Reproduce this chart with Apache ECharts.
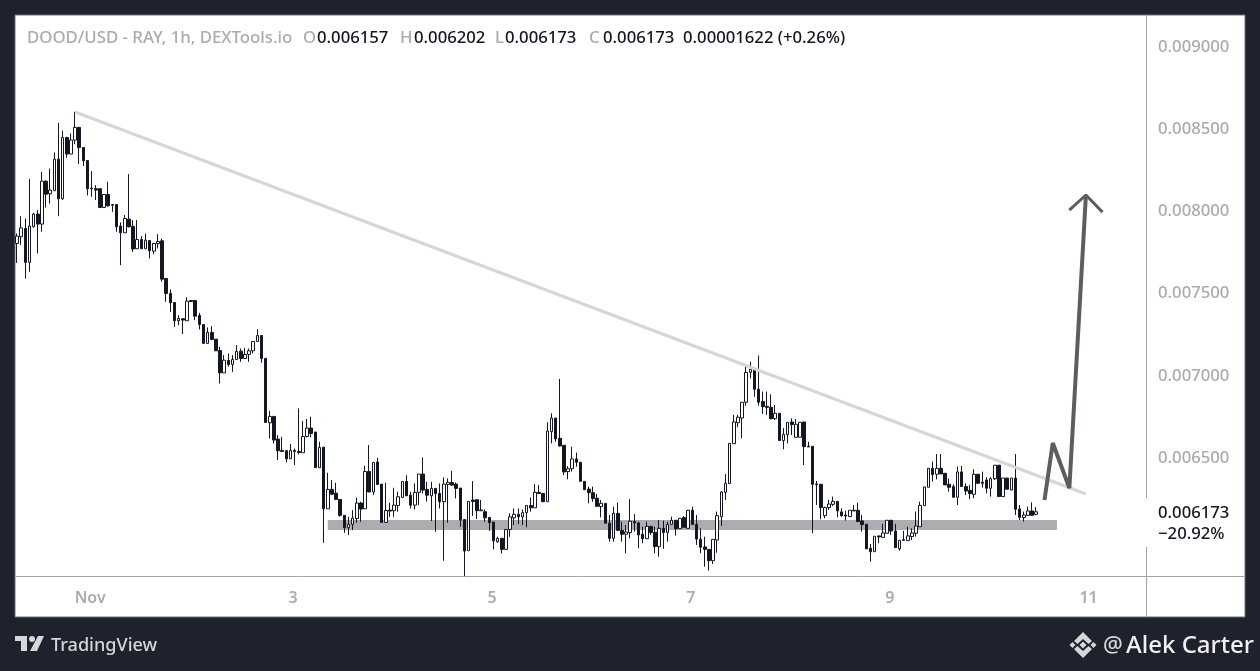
<!DOCTYPE html>
<html><head><meta charset="utf-8">
<style>html,body{margin:0;padding:0;background:#1e222d}#c{width:1260px;height:671px}</style>
<script src="https://cdn.jsdelivr.net/npm/echarts@6/dist/echarts.min.js"></script>
</head><body><div id="c"></div>
<script>
// Prices are in millionths of a USD.
const opens = [
7805,7846,7896,7690,7907,7984,7923,8184,8107,8126,
8318,8077,8450,8349,8434,8511,8389,8310,8142,8138,
8138,8024,8103,8042,8042,7911,7870,7953,7909,7773,
7829,7773,7823,7758,7805,7821,7592,7501,7446,7335,
7347,7335,7458,7458,7367,7312,7197,7264,7223,7154,
7018,7093,7069,7099,7150,7105,7130,7152,7209,7245,
7106,6714,6753,6615,6546,6544,6495,6546,6540,6532,
6631,6682,6658,6441,6566,6191,6309,6286,6248,6151,
6076,6096,6132,6226,6191,6418,6293,6475,6341,6108,
6183,6179,6211,6260,6357,6274,6213,6291,6402,6309,
6270,6315,6284,6234,6339,6351,6341,6317,6126,5936,
6244,6246,6183,6173,6138,6110,5990,6011,5944,6065,
6136,6157,6142,6167,6211,6197,6291,6284,6234,6660,
6743,6620,6577,6417,6435,6494,6474,6358,6311,6289,
6255,6204,6224,6103,6011,6163,6060,6036,6046,6113,
6105,6036,6009,6084,6048,5961,6072,6046,6096,6121,
6070,6137,6072,6182,6096,6005,5959,5944,5875,6001,
6143,6291,6344,6587,6715,6743,6839,7021,7040,6918,
6843,6814,6808,6739,6772,6606,6642,6719,6626,6626,
6719,6571,6571,6342,6340,6149,6198,6218,6236,6172,
6153,6143,6182,6182,6117,6097,5951,5930,6026,6017,
6042,6121,6056,5947,6003,5997,6022,6042,6082,6210,
6322,6437,6401,6437,6407,6340,6326,6261,6415,6326,
6303,6279,6401,6352,6366,6316,6374,6456,6265,6378,
6305,6378,6190,6137,6151,6178,6157];
const highs = [
7866,7971,7957,8197,7992,8008,8241,8190,8261,8359,
8539,8491,8454,8474,8606,8515,8389,8310,8245,8160,
8138,8103,8180,8042,8042,7933,7978,8227,7947,7947,
7850,7866,7823,7805,7862,7836,7592,7525,7446,7369,
7347,7477,7458,7458,7383,7312,7294,7302,7223,7176,
7126,7136,7126,7187,7166,7170,7166,7209,7284,7245,
7106,6787,6753,6639,6629,6548,6585,6558,6802,6725,
6737,6751,6658,6599,6566,6410,6366,6349,6248,6151,
6142,6183,6258,6234,6453,6578,6473,6501,6341,6349,
6228,6319,6295,6357,6394,6295,6345,6402,6503,6355,
6355,6315,6345,6382,6376,6422,6351,6317,6126,6236,
6359,6246,6244,6187,6142,6110,6021,6011,6065,6163,
6193,6193,6187,6213,6260,6341,6335,6288,6718,6772,
6743,6981,6577,6451,6569,6533,6474,6358,6326,6326,
6281,6245,6224,6153,6204,6230,6113,6092,6249,6159,
6113,6082,6113,6084,6082,6123,6119,6113,6143,6121,
6133,6147,6182,6204,6153,6072,6021,5944,6005,6174,
6299,6403,6589,6762,6762,6839,7066,7086,7040,7123,
6904,6904,6887,6823,6772,6681,6717,6741,6737,6717,
6719,6599,6571,6360,6340,6204,6245,6265,6236,6194,
6180,6182,6214,6228,6153,6097,5977,6024,6026,6099,
6121,6121,6099,5999,6056,6082,6072,6174,6234,6324,
6437,6478,6524,6524,6407,6376,6340,6447,6451,6346,
6336,6431,6401,6417,6383,6383,6456,6456,6378,6378,
6378,6524,6214,6174,6204,6230,6202];
const lows = [
7687,7795,7592,7633,7902,7744,7876,8024,8048,8126,
7971,8069,8326,8349,8409,8288,8276,8097,8089,8069,
8024,8024,8028,7998,7876,7673,7870,7902,7754,7773,
7773,7773,7714,7740,7775,7572,7450,7389,7298,7308,
7254,7335,7452,7339,7282,7197,7197,7217,7152,6953,
7018,7055,7024,7099,7085,7105,7085,7136,7209,7079,
6716,6619,6589,6487,6538,6473,6495,6457,6522,6532,
6625,6625,6441,6441,5984,6191,6274,6244,6142,6045,
6031,6061,6106,6112,6191,6293,6274,6339,6108,6108,
6142,6142,6173,6260,6270,6193,6187,6213,6284,6234,
6116,6051,6193,5875,6106,6331,6254,6082,5781,5936,
6147,6128,6179,6112,6057,5944,5984,5919,5940,6021,
6092,6098,6092,6078,6173,6197,6284,6234,6234,6589,
6599,6569,6397,6370,6417,6447,6358,6307,6224,6234,
6204,6139,6103,5991,5991,6056,5991,5920,6011,6052,
5950,5981,6007,6032,5920,5900,5948,5991,6096,6028,
6070,6078,6072,6096,5971,5920,5839,5815,5855,5924,
6086,6245,6344,6587,6687,6620,6818,6985,6873,6818,
6768,6762,6735,6731,6606,6553,6589,6640,6626,6626,
6457,6567,6042,6214,6127,6133,6184,6208,6139,6143,
6119,6143,6178,6113,6052,5947,5869,5930,5981,6017,
6042,6032,5955,5936,5999,5997,6001,6022,6082,6210,
6322,6356,6370,6403,6336,6295,6261,6214,6326,6275,
6249,6255,6342,6320,6285,6265,6366,6265,6265,6310,
6305,6153,6123,6113,6147,6151,6151];
const closes = [
7850,7900,7690,7911,7984,7923,8184,8105,8130,8318,
8077,8450,8349,8434,8511,8389,8308,8138,8138,8130,
8024,8103,8034,8038,7907,7870,7957,7907,7771,7829,
7773,7825,7761,7805,7817,7588,7501,7444,7335,7349,
7339,7454,7452,7363,7312,7197,7264,7221,7152,7018,
7095,7069,7099,7148,7105,7130,7152,7209,7245,7105,
6716,6753,6609,6544,6540,6495,6546,6540,6534,6631,
6682,6649,6441,6564,6191,6309,6280,6248,6151,6076,
6096,6134,6226,6189,6418,6293,6473,6339,6108,6181,
6177,6213,6264,6357,6270,6213,6291,6402,6305,6274,
6315,6284,6234,6341,6351,6335,6315,6122,5934,6236,
6236,6179,6179,6136,6106,5996,6011,5944,6065,6142,
6157,6142,6167,6211,6197,6291,6284,6234,6664,6743,
6616,6573,6415,6435,6494,6474,6358,6307,6289,6253,
6206,6224,6103,6011,6163,6060,6036,6050,6115,6105,
6032,6009,6084,6046,5961,6072,6046,6096,6121,6070,
6133,6078,6182,6096,6007,5957,5944,5875,6005,6149,
6293,6346,6589,6719,6748,6839,7021,7040,6918,6839,
6812,6808,6739,6772,6606,6644,6717,6703,6705,6717,
6569,6567,6340,6338,6198,6198,6220,6236,6178,6149,
6147,6182,6178,6113,6095,5947,5930,6024,6020,6044,
6121,6056,5955,5999,5999,6026,6044,6086,6212,6324,
6437,6399,6437,6403,6336,6322,6261,6415,6326,6299,
6283,6401,6346,6346,6316,6374,6456,6265,6378,6310,
6378,6188,6139,6153,6178,6151,6173];

const slotCount = 273;
const dayLabelSlots = [18, 67, 115, 163, 211, 259];
const dayLabels = ['Nov', '3', '5', '7', '9', '11'];
const priceTicks = [6500, 7000, 7500, 8000, 8500, 9000];

// Drawn tools, in [slot, price] terms
const trendLine = [[14, 8605], [258, 6281]];
const arrowPath = [[248, 6244], [250, 6591], [254, 6317], [258, 8100]];
const arrowHead = [[254, 8008], [258, 8100], [262, 7996]];
const supportZone = { fromSlot: 75, toSlot: 251, top: 6123, bottom: 6062 };

const headerName = 'DOOD/USD - RAY, 1h, DEXTools.io';
const headerOHLC = [['O', '0.006157'], ['H', '0.006202'], ['L', '0.006173'], ['C', '0.006173']];
const headerChange = '0.00001622 (+0.26%)';
const lastPrice = '0.006173';
const lastChange = '\u221220.92%';

const categories = Array.from({ length: slotCount }, (_, i) => {
  const k = dayLabelSlots.indexOf(i);
  return k >= 0 ? dayLabels[k] : String(i);
});
const candles = opens.map((o, i) => [o, closes[i], lows[i], highs[i]]);

const FONT = '"Noto Sans", sans-serif';
const DARK = '#1e222d', GREY = '#a9abb0', AXIS = '#a3a3a6', INK = '#131722';

const text = (x, y, t, color, size, weight) => ({
  type: 'text', x, y, z: 20,
  style: { text: t, fill: color, font: `${weight || 500} ${size}px ${FONT}`, textVerticalAlign: 'middle' }
});
const poly = (pts, fill) => ({ type: 'polygon', z: 20, shape: { points: pts }, style: { fill } });
const vline = (x, y1, y2) => ({ type: 'line', z: 5, shape: { x1: x, y1, x2: x, y2 }, style: { stroke: AXIS, lineWidth: 1 } });
const hline = (x1, x2, y) => ({ type: 'line', z: 5, shape: { x1, y1: y, x2, y2: y }, style: { stroke: AXIS, lineWidth: 1 } });

const ohlcX = [[303, 317], [400, 414], [495, 505], [589, 603]];
const graphics = [
  { type: 'rect', z: -10, shape: { x: 15, y: 15, width: 1230, height: 602 }, style: { fill: '#ffffff', stroke: '#6c6f78', lineWidth: 1 } },
  hline(1146, 1245, 576.5),
  vline(1146.5, 576, 617),
  { type: 'rect', z: 6, shape: { x: 1144, y: 498, width: 5, height: 49 }, style: { fill: '#ffffff' } },
  text(27, 38.5, headerName, GREY, 16.8),
  text(683, 38.5, headerChange, INK, 16.7),
  text(1158, 513, lastPrice, INK, 16.7),
  text(1158, 534, lastChange, INK, 16.7),
  text(51, 646, 'TradingView', '#d6d7da', 18.1),
  text(1103, 646, '@', '#d6d7da', 22),
  text(1126, 646, 'Alek Carter', '#f0f0f0', 24),
  // TradingView mark
  poly([[15, 636], [27, 636], [27, 651], [21, 651], [21, 641], [15, 641]], '#d6d7da'),
  { type: 'circle', z: 20, shape: { cx: 32, cy: 639, r: 3 }, style: { fill: '#d6d7da' } },
  poly([[38, 636], [44, 636], [37, 651], [30, 651]], '#d6d7da'),
  // Exchange mark
  poly([[1083, 632], [1092, 641], [1088.5, 644], [1083, 639], [1077.5, 644], [1074, 641]], '#d6d7da'),
  poly([[1083, 658], [1074, 649], [1077.5, 646], [1083, 651], [1088.5, 646], [1092, 649]], '#d6d7da'),
  poly([[1083, 641.5], [1086.5, 645], [1083, 648.5], [1079.5, 645]], '#d6d7da'),
  poly([[1072.5, 642], [1075.5, 645], [1072.5, 648], [1069.5, 645]], '#d6d7da'),
  poly([[1093.5, 642], [1096.5, 645], [1093.5, 648], [1090.5, 645]], '#d6d7da')
];
headerOHLC.forEach((p, i) => {
  graphics.push(text(ohlcX[i][0], 38.5, p[0], GREY, 16.7));
  graphics.push(text(ohlcX[i][1], 38.5, p[1], INK, 16.7));
});

const chart = echarts.init(document.getElementById('c'), null, { renderer: 'canvas', width: 1260, height: 671 });
chart.setOption({
  animation: false,
  backgroundColor: DARK,
  grid: { left: 15, right: 114, top: 15, bottom: 95, containLabel: false },
  xAxis: {
    type: 'category', data: categories, boundaryGap: true,
    axisLine: { lineStyle: { color: AXIS, width: 1 } }, axisTick: { show: false }, splitLine: { show: false },
    axisLabel: {
      interval: (i) => dayLabelSlots.includes(i),
      formatter: (v) => dayLabels.includes(v) ? v : '',
      color: GREY, fontFamily: FONT, fontSize: 16, fontWeight: 600, margin: 14, padding: [0, 3, 0, 0]
    }
  },
  yAxis: {
    type: 'value', position: 'right', min: 5782, max: 9195, scale: true,
    axisLine: { show: true, lineStyle: { color: AXIS, width: 1 } }, axisTick: { show: false }, splitLine: { show: false },
    axisLabel: {
      customValues: priceTicks,
      formatter: (v) => (v / 1e6).toFixed(6),
      color: GREY, fontFamily: FONT, fontSize: 16.7, fontWeight: 500, margin: 12, padding: [4, 0, 0, 0]
    }
  },
  series: [
    {
      type: 'line', z: 1, data: [], silent: true,
      markArea: {
        silent: true, itemStyle: { color: '#adadb1', opacity: 1 },
        data: [[{ xAxis: supportZone.fromSlot, yAxis: supportZone.top }, { xAxis: supportZone.toSlot, yAxis: supportZone.bottom }]]
      }
    },
    {
      type: 'candlestick', z: 3, data: candles, barWidth: 3,
      itemStyle: { color: '#ffffff', color0: INK, borderColor: INK, borderColor0: INK, borderWidth: 1 }
    },
    { type: 'line', z: 4, data: trendLine, showSymbol: false, silent: true, lineStyle: { color: '#d6d6d6', width: 3 } },
    { type: 'line', z: 5, data: arrowPath, showSymbol: false, silent: true, lineStyle: { color: '#5c5d62', width: 4 } },
    { type: 'line', z: 5, data: arrowHead, showSymbol: false, silent: true, lineStyle: { color: '#5c5d62', width: 3 } }
  ],
  graphic: { elements: graphics }
});
</script></body></html>
